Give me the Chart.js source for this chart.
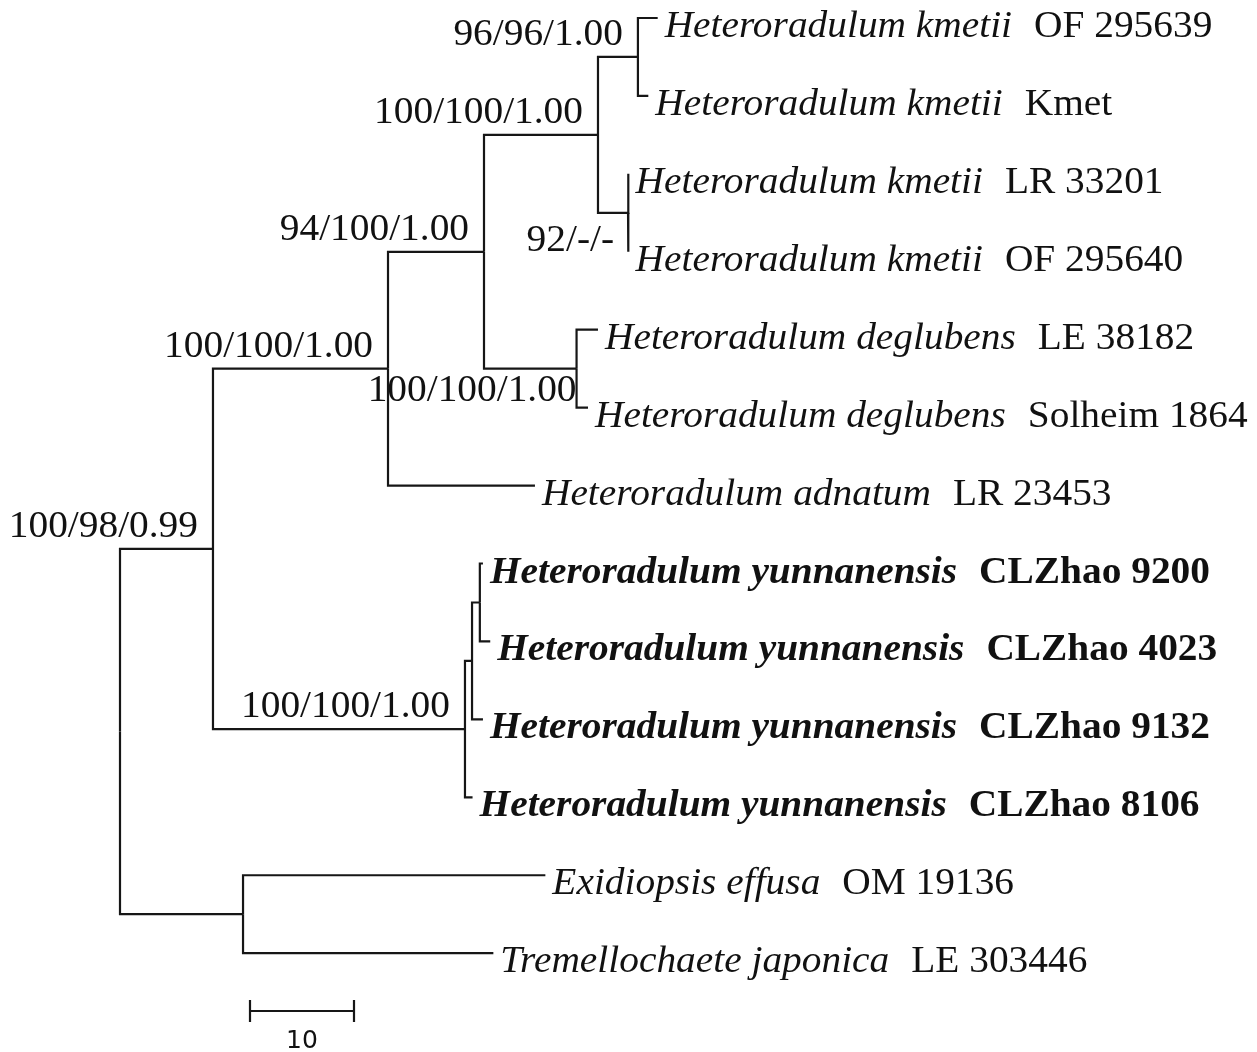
<!DOCTYPE html>
<html>
<head>
<meta charset="utf-8">
<script src="https://cdn.jsdelivr.net/npm/chart.js@4.4.1/dist/chart.umd.min.js"></script>
<style>
  html, body { margin: 0; padding: 0; background: #fff; }
  #wrap { width: 1257px; height: 1052px; }
</style>
</head>
<body>
<div id="wrap"><canvas id="treeChart"></canvas></div>
<script>
// internal nodes of the tree (branch lengths, in scale-bar units)
const cladeNames   = ['root', 'ingroup', 'outgroup', 'core', 'yunnanensis', 'kmet_degl', 'kmetii', 'deglubens', 'kmetii_a', 'kmetii_b', 'yun_a', 'yun_b'];
const cladeParent  = [null, 'root', 'root', 'ingroup', 'ingroup', 'core', 'kmet_degl', 'kmet_degl', 'kmetii', 'kmetii', 'yunnanensis', 'yun_a'];
const cladeLength  = [0, 8.94, 11.83, 16.83, 24.23, 9.23, 10.96, 8.9, 3.84, 2.89, 0.68, 0.75];
const cladeSupport = ['', '100/98/0.99', '', '100/100/1.00', '100/100/1.00', '94/100/1.00', '100/100/1.00', '100/100/1.00', '96/96/1.00', '92/-/-', '', ''];

// tips, top to bottom
const tipTaxa = [
  'Heteroradulum kmetii', 'Heteroradulum kmetii', 'Heteroradulum kmetii', 'Heteroradulum kmetii',
  'Heteroradulum deglubens', 'Heteroradulum deglubens', 'Heteroradulum adnatum',
  'Heteroradulum yunnanensis', 'Heteroradulum yunnanensis', 'Heteroradulum yunnanensis', 'Heteroradulum yunnanensis',
  'Exidiopsis effusa', 'Tremellochaete japonica'
];
const tipVouchers = ['OF 295639', 'Kmet', 'LR 33201', 'OF 295640', 'LE 38182', 'Solheim 1864', 'LR 23453',
  'CLZhao 9200', 'CLZhao 4023', 'CLZhao 9132', 'CLZhao 8106', 'OM 19136', 'LE 303446'];
const tipParent = ['kmetii_a', 'kmetii_a', 'kmetii_b', 'kmetii_b', 'deglubens', 'deglubens', 'core',
  'yun_b', 'yun_b', 'yun_a', 'yunnanensis', 'outgroup', 'outgroup'];
const tipLength = [1.9, 1.0, 0.05, 0.05, 2.06, 1.1, 14.13, 0.3, 1.0, 1.05, 0.73, 29.07, 24.07];
const tipNew = [false, false, false, false, false, false, false, true, true, true, true, false, false];

const scaleBarLength = 10;
const scaleBarLabel = '10';

// ---- build node coordinates ----
const nodes = {};
cladeNames.forEach((n, i) => { nodes[n] = { name: n, parent: cladeParent[i], len: cladeLength[i], support: cladeSupport[i], kids: [] }; });
const tips = tipTaxa.map((t, i) => ({ name: 'tip' + i, parent: tipParent[i], len: tipLength[i], row: i, tip: true, kids: [] }));
tips.forEach(t => nodes[t.name] = t);
Object.values(nodes).forEach(n => { if (n.parent) nodes[n.parent].kids.push(n); });

function place(n, x0) {
  n.x = x0 + n.len;
  if (n.tip) { n.y = n.row; return; }
  n.kids.forEach(k => place(k, n.x));
  const ys = n.kids.map(k => k.y);
  n.y = (Math.min(...ys) + Math.max(...ys)) / 2;
}
place(nodes.root, 0);

const lineColor = '#161616';
const datasets = [];
Object.values(nodes).forEach(n => {
  if (!n.parent) return;
  const p = nodes[n.parent];
  datasets.push({
    data: [{ x: p.x, y: p.y }, { x: p.x, y: n.y }, { x: n.x, y: n.y }],
    borderColor: lineColor, borderWidth: 2.2, pointRadius: 0, showLine: true,
    borderJoinStyle: 'miter', borderCapStyle: 'butt', tension: 0
  });
});
// scale bar
const barY = 12.742, barX = 12.5;
datasets.push({
  data: [{ x: barX, y: barY }, { x: barX + scaleBarLength, y: barY }],
  borderColor: lineColor, borderWidth: 2.2, pointRadius: 0, showLine: true
});

const serif = '"Liberation Serif", "Times New Roman", serif';
const fontPx = 37.5;
const stretch = 1.05;

function drawStretched(ctx, text, x, y, font, align) {
  ctx.save();
  ctx.font = font;
  const w = ctx.measureText(text).width * stretch;
  let left = x;
  if (align === 'right') left = x - w;
  ctx.translate(left, y);
  ctx.scale(stretch, 1);
  ctx.textAlign = 'left';
  ctx.textBaseline = 'alphabetic';
  ctx.fillText(text, 0, 0);
  ctx.restore();
  return w;
}

const labelPlugin = {
  id: 'treeLabels',
  afterDatasetsDraw(chart) {
    const ctx = chart.ctx;
    const xs = chart.scales.x, ys = chart.scales.y;
    ctx.fillStyle = '#111';
    const f = fontPx + 'px ' + serif;
    // tip labels
    tips.forEach((t, i) => {
      const px = xs.getPixelForValue(t.x) + 7;
      const py = ys.getPixelForValue(t.y) + 19;
      const b = tipNew[i] ? 'bold ' : '';
      const w = drawStretched(ctx, tipTaxa[i], px, py, b + 'italic ' + f);
      drawStretched(ctx, tipVouchers[i], px + w + 22, py, b + f);
    });
    // support values
    Object.values(nodes).forEach(n => {
      if (!n.support) return;
      const px = xs.getPixelForValue(n.x);
      const py = ys.getPixelForValue(n.y);
      if (n.name === 'deglubens') {
        drawStretched(ctx, n.support, px, py + 32, f, 'right');
      } else if (n.name === 'kmetii_b') {
        drawStretched(ctx, n.support, px - 14, py + 38, f, 'right');
      } else {
        drawStretched(ctx, n.support, px - 15, py - 12, f, 'right');
      }
    });
    // scale bar ticks and label
    const bx0 = xs.getPixelForValue(barX), bx1 = xs.getPixelForValue(barX + scaleBarLength);
    const by = ys.getPixelForValue(barY);
    ctx.save();
    ctx.strokeStyle = lineColor;
    ctx.lineWidth = 2.2;
    ctx.beginPath();
    ctx.moveTo(bx0, by - 11); ctx.lineTo(bx0, by + 11);
    ctx.moveTo(bx1, by - 11); ctx.lineTo(bx1, by + 11);
    ctx.stroke();
    ctx.font = '25px "DejaVu Sans", sans-serif';
    ctx.textAlign = 'center';
    ctx.textBaseline = 'alphabetic';
    ctx.fillText(scaleBarLabel, (bx0 + bx1) / 2, by + 37);
    ctx.restore();
  }
};

// pixel mapping: x = 120 + 10.4 * units, row y = 18 + 77.93 * row
const xMin = -120 / 10.4, yMin = -18 / 77.93;
new Chart(document.getElementById('treeChart'), {
  type: 'scatter',
  data: { datasets },
  options: {
    responsive: true,
    maintainAspectRatio: false,
    animation: false,
    layout: { padding: 0 },
    plugins: { legend: { display: false }, tooltip: { enabled: false } },
    scales: {
      x: { type: 'linear', display: false, min: xMin, max: xMin + 1257 / 10.4 },
      y: { type: 'linear', display: false, reverse: true, min: yMin, max: yMin + 1052 / 77.93 }
    }
  },
  plugins: [labelPlugin]
});
</script>
</body>
</html>
